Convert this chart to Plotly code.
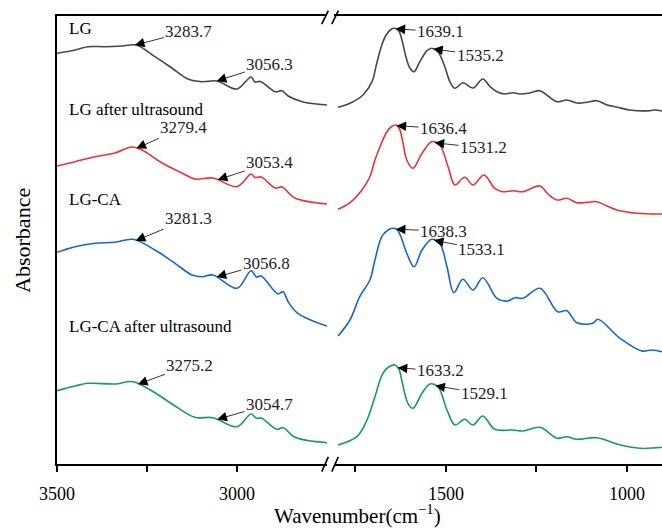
import numpy as np
import plotly.graph_objects as go

# ---------------- data ----------------
# LG (gray)
lg_wn_hi = [3500, 3450, 3414, 3367, 3319, 3280, 3228, 3181, 3136, 3097, 3056, 3000, 2961, 2950, 2935, 2894, 2875, 2858, 2819, 2750]
lg_ab_hi = [4.107, 4.14, 4.173, 4.173, 4.18, 4.19, 4.073, 3.96, 3.85, 3.823, 3.83, 3.75, 3.87, 3.82, 3.825, 3.723, 3.733, 3.68, 3.623, 3.59]
lg_wn_lo = [1798, 1765, 1729, 1704, 1691, 1677, 1665, 1652, 1641, 1630, 1620, 1611, 1599, 1588, 1572, 1552, 1539, 1522, 1503, 1489, 1475, 1453, 1425, 1398, 1378, 1359, 1337, 1315, 1296, 1268, 1240, 1218, 1193, 1166, 1138, 1110, 1083, 1055, 1028, 992, 936, 923, 903]
lg_ab_lo = [3.567, 3.607, 3.69, 3.823, 4.007, 4.19, 4.29, 4.345, 4.357, 4.33, 4.22, 4.08, 3.957, 3.923, 4.023, 4.133, 4.157, 4.123, 3.973, 3.823, 3.757, 3.813, 3.76, 3.85, 3.773, 3.723, 3.70, 3.713, 3.70, 3.71, 3.733, 3.68, 3.623, 3.64, 3.61, 3.617, 3.633, 3.59, 3.57, 3.54, 3.533, 3.54, 3.53]

# LG after ultrasound (red)
lgu_wn_hi = [3500, 3450, 3394, 3339, 3292, 3264, 3208, 3153, 3117, 3067, 3000, 2961, 2950, 2933, 2894, 2875, 2839, 2750]
lgu_ab_hi = [2.98, 3.023, 3.073, 3.11, 3.17, 3.14, 3.01, 2.91, 2.85, 2.86, 2.773, 2.90, 2.865, 2.87, 2.76, 2.77, 2.66, 2.60]
lgu_wn_lo = [1798, 1765, 1732, 1710, 1696, 1682, 1663, 1650, 1638, 1628, 1619, 1608, 1591, 1566, 1539, 1517, 1494, 1475, 1448, 1425, 1395, 1365, 1343, 1315, 1287, 1240, 1218, 1193, 1166, 1138, 1110, 1083, 1055, 1028, 972, 903]
lgu_ab_lo = [2.547, 2.613, 2.74, 2.873, 3.04, 3.173, 3.323, 3.375, 3.39, 3.35, 3.22, 3.04, 2.957, 3.107, 3.223, 3.19, 2.973, 2.79, 2.867, 2.79, 2.89, 2.757, 2.723, 2.733, 2.723, 2.78, 2.70, 2.64, 2.657, 2.613, 2.617, 2.623, 2.58, 2.54, 2.507, 2.50]

# LG-CA (blue)
ca_wn_hi = [3500, 3450, 3394, 3339, 3289, 3228, 3172, 3125, 3097, 3067, 3000, 2961, 2946, 2933, 2886, 2872, 2858, 2831, 2750]
ca_ab_hi = [2.117, 2.173, 2.207, 2.217, 2.247, 2.14, 2.007, 1.89, 1.873, 1.89, 1.757, 1.933, 1.87, 1.88, 1.70, 1.723, 1.623, 1.507, 1.38]
ca_wn_lo = [1798, 1765, 1738, 1710, 1696, 1677, 1660, 1647, 1635, 1625, 1608, 1588, 1566, 1539, 1517, 1497, 1478, 1453, 1425, 1398, 1359, 1329, 1309, 1287, 1240, 1191, 1166, 1138, 1094, 1080, 1019, 959, 931, 903]
ca_ab_lo = [1.28, 1.44, 1.673, 1.84, 2.04, 2.273, 2.34, 2.357, 2.345, 2.28, 2.107, 1.973, 2.14, 2.247, 2.207, 1.973, 1.713, 1.847, 1.74, 1.863, 1.657, 1.63, 1.663, 1.657, 1.757, 1.523, 1.533, 1.413, 1.407, 1.447, 1.257, 1.13, 1.14, 1.123]

# LG-CA after ultrasound (green)
cau_wn_hi = [3500, 3450, 3414, 3339, 3289, 3228, 3172, 3117, 3067, 3000, 2961, 2946, 2933, 2889, 2872, 2839, 2750]
cau_ab_hi = [0.733, 0.78, 0.807, 0.80, 0.823, 0.713, 0.58, 0.467, 0.463, 0.373, 0.50, 0.457, 0.46, 0.347, 0.363, 0.267, 0.213]
cau_wn_lo = [1798, 1746, 1718, 1696, 1674, 1656, 1641, 1630, 1622, 1605, 1591, 1566, 1544, 1522, 1497, 1475, 1448, 1425, 1398, 1365, 1315, 1287, 1240, 1193, 1166, 1138, 1083, 1028, 964, 903]
cau_ab_lo = [0.19, 0.273, 0.44, 0.673, 0.907, 0.975, 0.99, 0.95, 0.84, 0.607, 0.557, 0.707, 0.80, 0.773, 0.54, 0.39, 0.447, 0.39, 0.48, 0.347, 0.34, 0.33, 0.367, 0.257, 0.273, 0.247, 0.263, 0.20, 0.157, 0.167]

names = ["LG", "LG after ultrasound", "LG-CA", "LG-CA after ultrasound"]
colors = ["#474747", "#f23030", "#1565d8", "#14a050"]
peaks_hi = [[3283.7, 3056.3], [3279.4, 3053.4], [3281.3, 3056.8], [3275.2, 3054.7]]
peaks_lo = [[1639.1, 1535.2], [1636.4, 1531.2], [1638.3, 1533.1], [1633.2, 1529.1]]

# label offsets (pixels, text centre relative to arrow tip)
off_hi = [[(54, -14), (53, -17)], [(47, -21), (52, -17)], [(53, -22), (50, -14)], [(52, -19), (52, -15)]]
off_lo = [[(45, 3), (47, 6)], [(47, 3), (49, 5)], [(48, 2), (48, 9)], [(43, 3), (49, 8)]]
name_y = [0.971, 0.792, 0.5915, 0.308]

series = [
    (lg_wn_hi, lg_ab_hi, lg_wn_lo, lg_ab_lo),
    (lgu_wn_hi, lgu_ab_hi, lgu_wn_lo, lgu_ab_lo),
    (ca_wn_hi, ca_ab_hi, ca_wn_lo, ca_ab_lo),
    (cau_wn_hi, cau_ab_hi, cau_wn_lo, cau_ab_lo),
]

FONT = "Liberation Serif, Times New Roman, DejaVu Serif, serif"
fig = go.Figure()
annotations = []

arrow_style = dict(showarrow=True, arrowhead=2, arrowsize=2.4, arrowwidth=0.8, arrowcolor="black",
                   font=dict(family=FONT, size=17, color="#222"))

for i, (wh, ah, wl, al) in enumerate(series):
    line = dict(color=colors[i], width=1.6, shape="spline", smoothing=1.0)
    fig.add_trace(go.Scatter(x=wh, y=ah, mode="lines", line=line, xaxis="x", yaxis="y",
                             name=names[i], showlegend=False, hoverinfo="skip"))
    fig.add_trace(go.Scatter(x=wl, y=al, mode="lines", line=line, xaxis="x2", yaxis="y",
                             name=names[i], showlegend=False, hoverinfo="skip"))
    for (pk, (ax, ay)) in zip(peaks_hi[i], off_hi[i]):
        yv = float(np.interp(pk, wh[::-1], ah[::-1]))
        annotations.append(dict(x=pk, y=yv, xref="x", yref="y", text=f"{pk:.1f}",
                                ax=ax, ay=ay, **arrow_style))
    for (pk, (ax, ay)) in zip(peaks_lo[i], off_lo[i]):
        yv = float(np.interp(pk, wl[::-1], al[::-1]))
        annotations.append(dict(x=pk, y=yv, xref="x2", yref="y", text=f"{pk:.1f}",
                                ax=ax, ay=ay, **arrow_style))
    annotations.append(dict(x=0.0165, y=name_y[i], xref="paper", yref="paper", text=names[i],
                            showarrow=False, xanchor="left", yanchor="middle",
                            font=dict(family=FONT, size=17, color="black")))

annotations.append(dict(x=0.4975, y=-0.112, xref="paper", yref="paper",
                        text="Wavenumber(cm<sup>−1</sup>)", showarrow=False,
                        xanchor="center", yanchor="middle",
                        font=dict(family=FONT, size=21, color="black")))
annotations.append(dict(x=-0.058, y=0.5, xref="paper", yref="paper", text="Absorbance",
                        showarrow=False, textangle=-90, xanchor="center", yanchor="middle",
                        font=dict(family=FONT, size=22, color="black")))

axis_common = dict(showline=True, linecolor="black", linewidth=2, mirror=True,
                   ticks="outside", ticklen=6, tickwidth=1.5, tickcolor="black",
                   showgrid=False, zeroline=False, ticklabelstandoff=6,
                   tickfont=dict(family=FONT, size=18, color="black"))

# break marks
shapes = []
for (xa, xb) in [(0.4376, 0.4485), (0.4542, 0.4650)]:
    shapes.append(dict(type="line", xref="paper", yref="paper", x0=xa, y0=-0.017, x1=xb, y1=0.016,
                       line=dict(color="black", width=1.6)))
    shapes.append(dict(type="line", xref="paper", yref="paper", x0=xa, y0=0.982, x1=xb, y1=1.012,
                       line=dict(color="black", width=1.6)))

fig.update_layout(
    width=662, height=530,
    margin=dict(l=57, r=0, t=16, b=66),
    paper_bgcolor="white", plot_bgcolor="white",
    xaxis=dict(domain=[0, 0.4463], range=[3500, 2750], anchor="y",
               tickvals=[3500, 3250, 3000], ticktext=["3500", "", "3000"], **axis_common),
    xaxis2=dict(domain=[0.4579, 1], range=[1809, 903], anchor="y",
                tickvals=[1750, 1500, 1250, 1000], ticktext=["", "1500", "", "1000"], **axis_common),
    yaxis=dict(domain=[0, 1], range=[0, 4.48], anchor="x", showline=True, linecolor="black",
               linewidth=2, showticklabels=False, ticks="", showgrid=False, zeroline=False),
    annotations=annotations,
    shapes=shapes,
    showlegend=False,
)

fig.write_html("out.html")
